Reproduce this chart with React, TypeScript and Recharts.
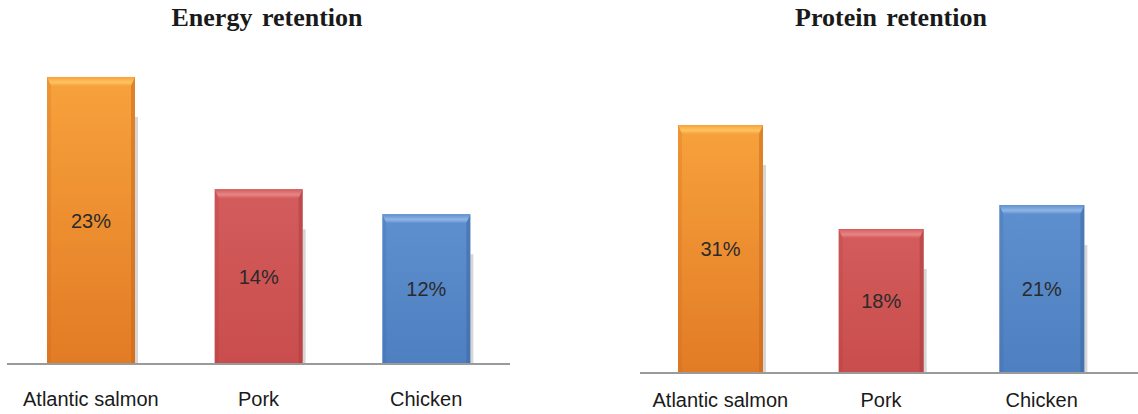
import React from "react";
import { BarChart, Bar, XAxis, YAxis, LabelList } from "recharts";

const categories = ["Atlantic salmon", "Pork", "Chicken"];
const energyRetention = [23, 14, 12];
const proteinRetention = [31, 18, 21];

// per-category palette for the bar body, bevel and side edges
const palette = [
  { top: "#f7a23c", bottom: "#e27b25", bevel: "#fcc45f", edge: "#c8651a" },
  { top: "#d45c5c", bottom: "#c94d4d", bevel: "#e78585", edge: "#a83c3c" },
  { top: "#5e90cf", bottom: "#4e7fc0", bevel: "#8fb6e6", edge: "#3c669f" },
];

const energyData = categories.map((name, i) => ({ name, value: energyRetention[i] }));
const proteinData = categories.map((name, i) => ({ name, value: proteinRetention[i] }));

const sans = "'Liberation Sans', Arial, Helvetica, sans-serif";
const serif = "'Liberation Serif', 'Times New Roman', serif";

// bevelled bar body with a soft shadow on its right side
function BevelBar(props: any) {
  const { x, y, width, height, index } = props;
  if (!height || height <= 0) return null;
  const c = palette[index % palette.length];
  const b = 9;
  const s = 4;
  const id = `grad-${props.chartId}-${index}`;
  const hid = `hl-${props.chartId}-${index}`;
  return (
    <g>
      <defs>
        <linearGradient id={id} x1="0" y1="0" x2="0" y2="1">
          <stop offset="0%" stopColor={c.top} />
          <stop offset="100%" stopColor={c.bottom} />
        </linearGradient>
        <linearGradient id={hid} x1="0" y1="0" x2="0" y2="1">
          <stop offset="0%" stopColor={c.top} />
          <stop offset="60%" stopColor={c.bevel} />
          <stop offset="100%" stopColor={c.top} />
        </linearGradient>
      </defs>
      <rect x={x + width} y={y + 40} width={3} height={height - 40} fill="#d6d6d6" />
      <rect x={x} y={y} width={width} height={height} fill={`url(#${id})`} />
      <polygon
        points={`${x},${y} ${x + width},${y} ${x + width - s},${y + b} ${x + s},${y + b}`}
        fill={`url(#${hid})`}
      />
      <polygon
        points={`${x + width},${y} ${x + width},${y + height} ${x + width - s},${y + height} ${x + width - s},${y + b}`}
        fill={c.edge}
        opacity={0.5}
      />
      <polygon
        points={`${x},${y} ${x + s},${y + b} ${x + s},${y + height} ${x},${y + height}`}
        fill={c.edge}
        opacity={0.22}
      />
    </g>
  );
}

function Title({ text, center }: { text: string; center: number }) {
  return (
    <div
      style={{
        position: "absolute",
        left: center - 150,
        width: 300,
        top: 3,
        textAlign: "center",
        fontFamily: serif,
        fontWeight: "bold",
        fontSize: 26,
        wordSpacing: 3,
        color: "#1a1a1a",
      }}
    >
      {text}
    </div>
  );
}

const tickStyle = { fill: "#1a1a1a", fontSize: 20, fontFamily: sans };
const valueStyle = { fill: "#2a2a2a", fontSize: 20, fontFamily: sans };

export default function App() {
  return (
    <div style={{ position: "absolute", left: 0, top: 0, width: 1138, height: 414, background: "#fff" }}>
      <Title text="Energy retention" center={267} />
      <Title text="Protein retention" center={891} />

      <div style={{ position: "absolute", left: 0, top: 0 }}>
        <BarChart width={520} height={414} data={energyData} margin={{ top: 52, right: 10, left: 7, bottom: 0 }}>
          <XAxis
            dataKey="name"
            height={50}
            tickLine={false}
            tickSize={0}
            tickMargin={28}
            axisLine={{ stroke: "#9a9a9a", strokeWidth: 2 }}
            tick={tickStyle}
          />
          <YAxis hide domain={[0, 25]} />
          <Bar
            dataKey="value"
            barSize={88}
            isAnimationActive={false}
            shape={(p: any) => <BevelBar {...p} chartId="energy" />}
          >
            <LabelList
              dataKey="value"
              position="center"
              formatter={(v: any) => `${v}%`}
              style={valueStyle}
            />
          </Bar>
        </BarChart>
      </div>

      <div style={{ position: "absolute", left: 620, top: 0 }}>
        <BarChart width={518} height={414} data={proteinData} margin={{ top: 93, right: 0, left: 20, bottom: 0 }}>
          <XAxis
            dataKey="name"
            height={41}
            padding={{ left: 0, right: 16 }}
            tickLine={false}
            tickSize={0}
            tickMargin={20}
            axisLine={{ stroke: "#9a9a9a", strokeWidth: 2 }}
            tick={tickStyle}
          />
          <YAxis hide domain={[0, 35]} />
          <Bar
            dataKey="value"
            barSize={85}
            isAnimationActive={false}
            shape={(p: any) => <BevelBar {...p} chartId="protein" />}
          >
            <LabelList
              dataKey="value"
              position="center"
              formatter={(v: any) => `${v}%`}
              style={valueStyle}
            />
          </Bar>
        </BarChart>
      </div>
    </div>
  );
}
